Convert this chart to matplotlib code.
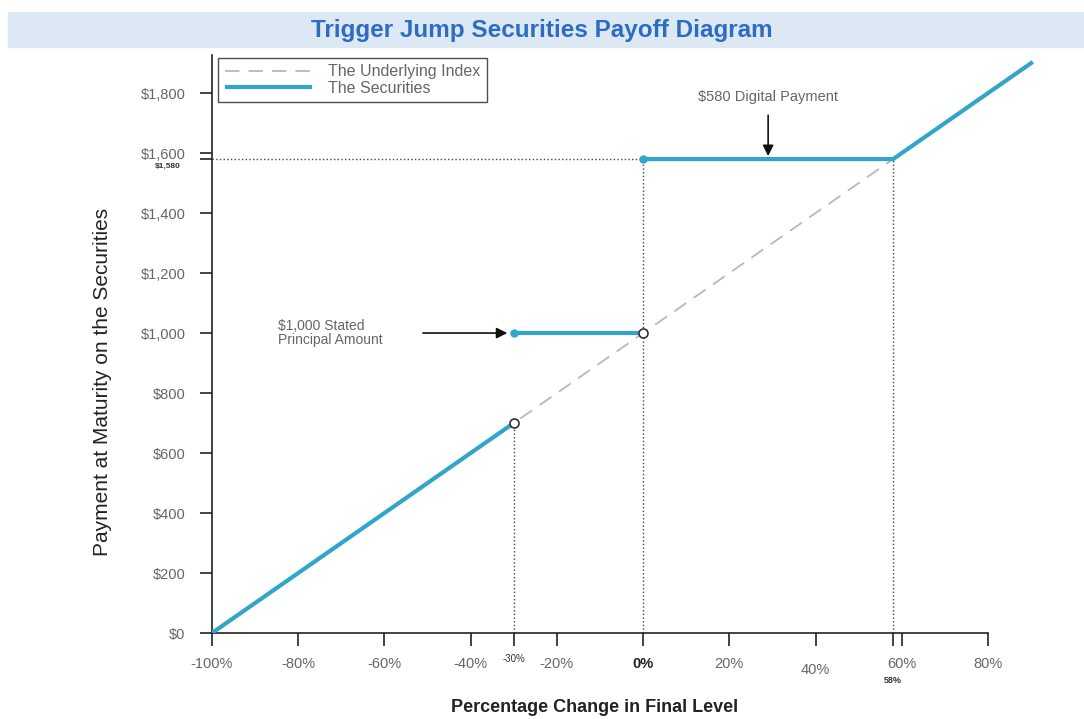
import matplotlib.pyplot as plt
import matplotlib.patches as patches

# payoff data (percentage change in final level, payment in $)
under_x = [-100, 58]
under_y = [0, 1580]

sec_down_x = [-100, -30]
sec_down_y = [0, 700]
sec_flat_x = [-30, 0]
sec_flat_y = [1000, 1000]
sec_dig_x = [0, 58, 90]
sec_dig_y = [1580, 1580, 1900]

open_pts_x = [-30, 0]
open_pts_y = [700, 1000]
fill_pts_x = [-30, 0]
fill_pts_y = [1000, 1580]

x_ticks = [-100, -80, -60, -40, -20, 0, 20, 60, 80]
x_labels = ['-100%', '-80%', '-60%', '-40%', '-20%', '0%', '20%', '60%', '80%']
y_ticks = [0, 200, 400, 600, 800, 1000, 1200, 1400, 1600, 1800]
y_labels = ['$0', '$200', '$400', '$600', '$800', '$1,000', '$1,200',
            '$1,400', '$1,600', '$1,800']

blue = '#31a6c9'
gray_txt = '#666666'

plt.rcParams['font.family'] = ['Liberation Sans', 'DejaVu Sans']

fig = plt.figure(figsize=(10.84, 7.19), dpi=100)

# title banner
fig.patches.append(patches.Rectangle((8 / 1084, 1 - 47 / 719), 1 - 8 / 1084, 35 / 719,
                                     transform=fig.transFigure, color='#dce9f4',
                                     zorder=0))
fig.text(0.5, 1 - 30 / 719, 'Trigger Jump Securities Payoff Diagram',
         ha='center', va='center', fontsize=17.5, fontweight='bold',
         color='#2d6cc2')

ax = fig.add_axes([212 / 1084, 86 / 719, 776 / 1084, 578 / 719])
ax.set_xlim(-100, 80)
ax.set_ylim(0, 1927)

for s in ['top', 'right']:
    ax.spines[s].set_visible(False)
for s in ['left', 'bottom']:
    ax.spines[s].set_color('#222222')
    ax.spines[s].set_linewidth(1.2)

# reference lines
ax.plot([-30, -30], [0, 700], ':', color='#444444', lw=1)
ax.plot([0, 0], [0, 1580], ':', color='#444444', lw=1)
ax.plot([58, 58], [0, 1580], ':', color='#444444', lw=1)
ax.plot([-100, 0], [1580, 1580], ':', color='#444444', lw=1)

ax.plot(under_x, under_y, color='#b8b8b8', lw=1.3, dashes=(8, 5),
        label='The Underlying Index', zorder=2)
ax.plot(sec_down_x, sec_down_y, color=blue, lw=3, label='The Securities',
        zorder=3, solid_capstyle='butt')
ax.plot(sec_flat_x, sec_flat_y, color=blue, lw=3, zorder=3)
ax.plot(sec_dig_x, sec_dig_y, color=blue, lw=3, zorder=3, clip_on=False)

ax.plot(fill_pts_x, fill_pts_y, 'o', color=blue, ms=5, zorder=4)
ax.plot(open_pts_x, open_pts_y, 'o', mfc='white', mec='#333333', mew=1.2,
        ms=6.5, zorder=5)

# ticks
ax.set_xticks(x_ticks, x_labels)
ax.set_xticks([-30, 40, 58], minor=True)
ax.set_yticks(y_ticks, y_labels)
ax.set_yticks([1580], minor=True)
ax.tick_params(axis='both', which='both', direction='out', length=9,
               width=1.2, color='#222222', labelsize=10.5, labelcolor=gray_txt)
ax.tick_params(axis='x', which='major', pad=8)
ax.tick_params(axis='y', which='major', pad=10)
for lab in ax.get_xticklabels():
    if lab.get_text() == '0%':
        lab.set_fontweight('bold')
        lab.set_color('#222222')

xt = ax.get_xaxis_transform()
ax.text(-30, -0.045, '-30%', transform=xt, ha='center', va='center',
        fontsize=7, color='#333333')
ax.text(40, -0.064, '40%', transform=xt, ha='center', va='center',
        fontsize=10.5, color=gray_txt)
ax.text(58, -0.082, '58%', transform=xt, ha='center', va='center',
        fontsize=6.5, color='#333333', fontweight='bold')
yt = ax.get_yaxis_transform()
ax.text(-0.04, 1556, '$1,580', transform=yt, ha='right', va='center',
        fontsize=6, color='#333333', fontweight='bold')

fig.text(595 / 1084, 1 - 708 / 719, 'Percentage Change in Final Level',
         ha='center', va='center', fontsize=13, fontweight='bold',
         color='#222222')
fig.text(103 / 1084, 1 - 382 / 719, 'Payment at Maturity on the Securities',
         ha='center', va='center', rotation=90, fontsize=15, color='#222222')

# annotations
ax.annotate('$1,000 Stated\nPrincipal Amount', xy=(-31.5, 1000),
            xytext=(-84.7, 1000), ha='left', va='center', fontsize=10,
            color=gray_txt, linespacing=1.0,
            arrowprops=dict(arrowstyle='-|>', color='#111111', lw=1.2,
                            shrinkA=27, shrinkB=0, mutation_scale=16))
ax.annotate('$580 Digital Payment', xy=(29, 1590), xytext=(29, 1763),
            ha='center', va='bottom', fontsize=10.5, color=gray_txt,
            arrowprops=dict(arrowstyle='-|>', color='#111111', lw=1.2,
                            shrinkA=6, shrinkB=0, mutation_scale=16))

leg = ax.legend(loc='upper left', bbox_to_anchor=(0.008, 0.995), fontsize=11.5,
                frameon=True, fancybox=False, edgecolor='#222222',
                handlelength=5.5, labelcolor=gray_txt, borderpad=0.4,
                labelspacing=0.1, handletextpad=1.0, borderaxespad=0)
leg.get_frame().set_linewidth(1.0)

fig.savefig('out.png', dpi=100)
